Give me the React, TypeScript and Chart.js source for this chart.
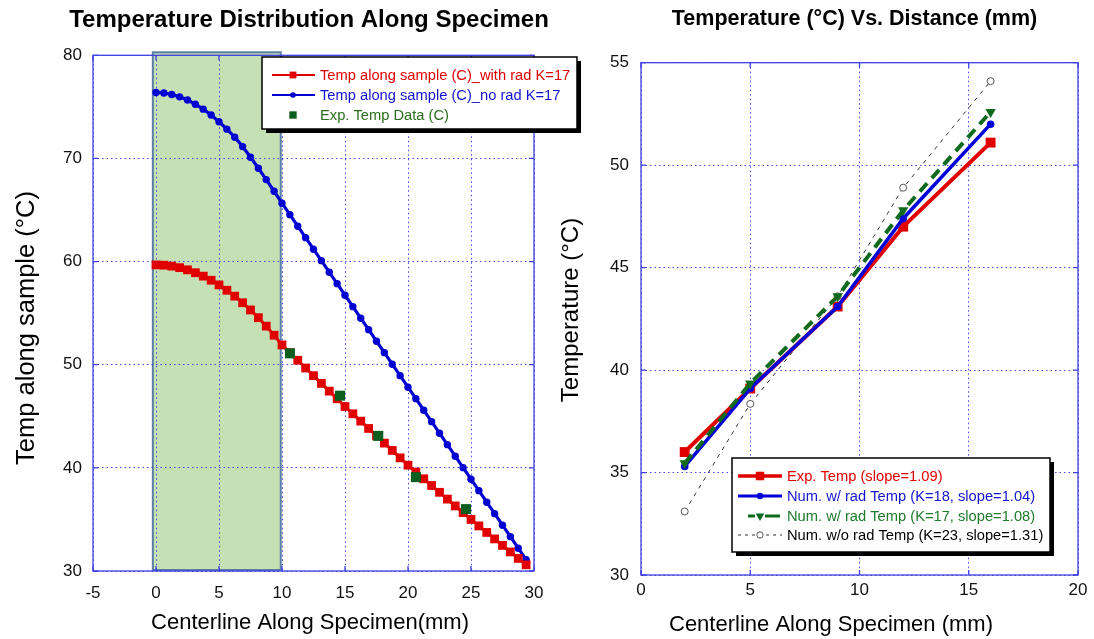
import React, { useEffect, useRef } from 'react';
import { Chart, registerables } from 'chart.js';
import { drawPoint } from 'chart.js/helpers';

Chart.register(...registerables);

// ---------- Left chart data ----------
const POS_MM = [
  0, 0.625, 1.25, 1.875, 2.5, 3.125, 3.75, 4.375, 5, 5.625, 6.25, 6.875, 7.5, 8.125, 8.75, 9.375,
  10, 10.625, 11.25, 11.875, 12.5, 13.125, 13.75, 14.375, 15, 15.625, 16.25, 16.875, 17.5, 18.125,
  18.75, 19.375, 20, 20.625, 21.25, 21.875, 22.5, 23.125, 23.75, 24.375, 25, 25.625, 26.25, 26.875,
  27.5, 28.125, 28.75, 29.375,
];
const T_WITH_RAD = [
  59.68, 59.65, 59.56, 59.41, 59.2, 58.92, 58.59, 58.19, 57.74, 57.22, 56.65, 56.01, 55.31, 54.56,
  53.74, 52.86, 51.92, 51.17, 50.43, 49.68, 48.94, 48.19, 47.44, 46.7, 45.95, 45.24, 44.53, 43.82,
  43.11, 42.4, 41.69, 40.97, 40.26, 39.6, 38.94, 38.29, 37.63, 36.97, 36.31, 35.66, 35.0, 34.37,
  33.74, 33.11, 32.48, 31.85, 31.22, 30.6,
];
const T_NO_RAD = [
  76.4, 76.35, 76.2, 75.97, 75.66, 75.26, 74.78, 74.21, 73.56, 72.84, 72.06, 71.15, 70.12, 69.05,
  67.95, 66.82, 65.66, 64.55, 63.43, 62.32, 61.2, 60.09, 58.97, 57.86, 56.74, 55.63, 54.51, 53.4,
  52.28, 51.17, 50.05, 48.94, 47.82, 46.71, 45.59, 44.48, 43.36, 42.25, 41.13, 40.02, 38.9, 37.79,
  36.67, 35.56, 34.44, 33.33, 32.21, 31.1,
];
const EXP_POS_MM = [10.63, 14.6, 17.64, 20.63, 24.6];
const EXP_T = [51.1, 47.0, 43.1, 39.1, 36.0];
const HEATER_FROM = -0.25;
const HEATER_TO = 9.9;
const LEFT_X_TICKS = [-5, 0, 5, 10, 15, 20, 25, 30];
const LEFT_Y_TICKS = [30, 40, 50, 60, 70, 80];

// ---------- Right chart data ----------
const DIST_MM = [2, 5, 9, 12, 16];
const EXP_TEMP = [36.0, 39.1, 43.1, 47.0, 51.1];
const NUM_RAD_K18 = [35.3, 39.1, 43.1, 47.4, 52.0];
const NUM_RAD_K17 = [35.45, 39.35, 43.6, 47.8, 52.6];
const NUM_NORAD_K23 = [33.1, 38.35, 43.6, 48.9, 54.1];
const RIGHT_X_TICKS = [0, 5, 10, 15, 20];
const RIGHT_Y_TICKS = [30, 35, 40, 45, 50, 55];

const FONT = '"Liberation Sans", Arial, sans-serif';
const GRID = 'rgba(60,60,235,0.95)';
const FRAME = '#4040e0';

const zip = (xs: number[], ys: number[]) => xs.map((x, i) => ({ x, y: ys[i] }));

const framePlugin = {
  id: 'frame',
  beforeDraw(chart: any, _a: any, o: any) {
    if (!o || !o.band) return;
    const { ctx, chartArea: a } = chart;
    const xs = chart.scales.x;
    const x1 = xs.getPixelForValue(o.band.from);
    const x2 = xs.getPixelForValue(o.band.to);
    ctx.save();
    ctx.fillStyle = o.band.fill;
    ctx.fillRect(x1, a.top - 3, x2 - x1, a.bottom - a.top + 2);
    ctx.strokeStyle = o.band.stroke;
    ctx.lineWidth = 2;
    ctx.strokeRect(x1, a.top - 3, x2 - x1, a.bottom - a.top + 2);
    ctx.restore();
  },
  beforeDatasetsDraw(chart: any) {
    const { ctx, chartArea: a } = chart;
    const xs = chart.scales.x;
    const ys = chart.scales.y;
    ctx.save();
    ctx.strokeStyle = FRAME;
    ctx.lineWidth = 1.3;
    ctx.setLineDash([]);
    ctx.strokeRect(a.left, a.top, a.right - a.left, a.bottom - a.top);
    ctx.beginPath();
    xs.ticks.forEach((t: any) => {
      const p = xs.getPixelForValue(t.value);
      ctx.moveTo(p, a.bottom);
      ctx.lineTo(p, a.bottom - 5);
      ctx.moveTo(p, a.top);
      ctx.lineTo(p, a.top + 5);
    });
    ys.ticks.forEach((t: any) => {
      const p = ys.getPixelForValue(t.value);
      ctx.moveTo(a.left, p);
      ctx.lineTo(a.left + 5, p);
      ctx.moveTo(a.right, p);
      ctx.lineTo(a.right - 5, p);
    });
    ctx.stroke();
    ctx.restore();
  },
};

const textsPlugin = {
  id: 'texts',
  afterDraw(chart: any, _a: any, o: any) {
    const ctx = chart.ctx;
    (o.items || []).forEach((t: any) => {
      ctx.save();
      ctx.translate(t.x, t.y);
      if (t.rotate) ctx.rotate((t.rotate * Math.PI) / 180);
      ctx.font = t.font;
      ctx.fillStyle = t.color || '#000';
      ctx.textAlign = 'center';
      ctx.textBaseline = 'middle';
      ctx.fillText(t.text, 0, 0);
      ctx.restore();
    });
  },
};

const boxLegendPlugin = {
  id: 'boxLegend',
  afterDraw(chart: any, _a: any, o: any) {
    if (!o || !o.box) return;
    const ctx = chart.ctx;
    const { x, y, w, h } = o.box;
    ctx.save();
    ctx.fillStyle = '#000';
    ctx.fillRect(x + 4, y + 4, w, h);
    ctx.fillStyle = '#fff';
    ctx.fillRect(x, y, w, h);
    ctx.strokeStyle = '#000';
    ctx.lineWidth = 1.5;
    ctx.strokeRect(x, y, w, h);
    chart.data.datasets.forEach((ds: any, i: number) => {
      const ry = o.rows[i];
      const s = ds.legendSample || {};
      if (s.lineWidth) {
        ctx.beginPath();
        ctx.setLineDash(s.dash || []);
        ctx.lineWidth = s.lineWidth;
        ctx.strokeStyle = ds.borderColor;
        ctx.moveTo(o.x1 + (s.dx1 || 0), ry);
        ctx.lineTo(o.x2 + (s.dx2 || 0), ry);
        ctx.stroke();
        ctx.setLineDash([]);
      }
      ctx.fillStyle = ds.pointBackgroundColor || ds.backgroundColor;
      ctx.strokeStyle = ds.pointBorderColor || ds.borderColor;
      ctx.lineWidth = ds.pointBorderWidth ?? 1;
      drawPoint(
        ctx,
        {
          pointStyle: ds.pointStyle,
          rotation: ds.pointRotation || 0,
          radius: s.radius,
          borderWidth: ds.pointBorderWidth ?? 1,
        } as any,
        o.mx,
        ry
      );
      ctx.font = o.font;
      ctx.fillStyle = o.colors[i];
      ctx.textAlign = 'left';
      ctx.textBaseline = 'middle';
      ctx.fillText(ds.label, o.tx, ry + 0.5);
    });
    ctx.restore();
  },
};

function axis(min: number, max: number, ticks: number[], size: number, horizontal: boolean, pad: number) {
  return {
    type: 'linear',
    min,
    max,
    afterBuildTicks: (s: any) => {
      s.ticks = ticks.map((v) => ({ value: v }));
    },
    afterFit: (s: any) => {
      if (horizontal) s.height = size;
      else s.width = size;
    },
    ticks: {
      padding: pad,
      color: '#111',
      font: { family: FONT, size: 17 },
      autoSkip: false,
      maxRotation: 0,
    },
    grid: { color: GRID, lineWidth: 1, drawTicks: false },
    border: { display: false, dash: [1.5, 3] },
  };
}

function leftConfig(): any {
  return {
    type: 'line',
    data: {
      datasets: [
        {
          label: 'Temp along sample (C)_with rad K=17',
          data: zip(POS_MM, T_WITH_RAD),
          borderColor: '#e00000',
          backgroundColor: '#e00000',
          borderWidth: 3,
          pointStyle: 'rect',
          pointRadius: 6.2,
          pointBorderWidth: 0,
          order: 1,
          legendSample: { lineWidth: 2.2, radius: 4.8 },
        },
        {
          label: 'Temp along sample (C)_no rad K=17',
          data: zip(POS_MM, T_NO_RAD),
          borderColor: '#0000d0',
          backgroundColor: '#0000d0',
          borderWidth: 3.2,
          pointStyle: 'circle',
          pointRadius: 3.7,
          pointBorderWidth: 0,
          order: 2,
          legendSample: { lineWidth: 2.2, radius: 2.8 },
        },
        {
          label: 'Exp. Temp Data (C)',
          data: zip(EXP_POS_MM, EXP_T),
          borderColor: '#0b5e1e',
          backgroundColor: '#0b5e1e',
          showLine: false,
          pointStyle: 'rect',
          pointRadius: 7.1,
          pointBorderWidth: 0,
          order: 0,
          legendSample: { radius: 5.2 },
        },
      ],
    },
    options: {
      responsive: false,
      animation: false,
      devicePixelRatio: 1,
      events: [],
      clip: false,
      layout: { padding: { left: 0, right: 66, top: 55.3, bottom: 0 } },
      scales: {
        x: axis(-5, 30, LEFT_X_TICKS, 68, true, 12),
        y: axis(30, 80, LEFT_Y_TICKS, 93, false, 11),
      },
      plugins: {
        legend: { display: false },
        tooltip: { enabled: false },
        title: { display: false },
        frame: { band: { from: HEATER_FROM, to: HEATER_TO, fill: '#c6e0b5', stroke: '#5b7fa6' } },
        texts: {
          items: [
            { text: 'Temperature Distribution Along Specimen', x: 309, y: 20, font: `bold 24px ${FONT}` },
            { text: 'Centerline Along Specimen(mm)', x: 310, y: 623, font: `22px ${FONT}` },
            { text: 'Temp along sample (°C)', x: 27, y: 328, rotate: -90, font: `25.5px ${FONT}` },
          ],
        },
        boxLegend: {
          box: { x: 262, y: 57, w: 315, h: 72 },
          rows: [75, 95, 115],
          x1: 272,
          x2: 315,
          mx: 293,
          tx: 320,
          font: `14.7px ${FONT}`,
          colors: ['#e00000', '#1414d0', '#2a6e1e'],
        },
      },
    },
    plugins: [framePlugin, textsPlugin, boxLegendPlugin],
  };
}

function rightConfig(): any {
  return {
    type: 'line',
    data: {
      datasets: [
        {
          label: 'Exp. Temp (slope=1.09)',
          data: zip(DIST_MM, EXP_TEMP),
          borderColor: '#e00000',
          backgroundColor: '#e00000',
          borderWidth: 4,
          pointStyle: 'rect',
          pointRadius: 7,
          pointBorderWidth: 0,
          order: 2,
          legendSample: { lineWidth: 3.5, radius: 6 },
        },
        {
          label: 'Num. w/ rad Temp (K=18, slope=1.04)',
          data: zip(DIST_MM, NUM_RAD_K18),
          borderColor: '#0000d8',
          backgroundColor: '#0000d8',
          borderWidth: 3.5,
          pointStyle: 'circle',
          pointRadius: 3.8,
          pointBorderWidth: 0,
          order: 1,
          legendSample: { lineWidth: 3, radius: 3.3 },
        },
        {
          label: 'Num. w/ rad Temp (K=17, slope=1.08)',
          data: zip(DIST_MM, NUM_RAD_K17),
          borderColor: '#0e6a1c',
          backgroundColor: '#0e6a1c',
          borderWidth: 4,
          borderDash: [11, 7],
          pointStyle: 'triangle',
          pointRotation: 180,
          pointRadius: 6,
          pointBorderWidth: 0,
          order: 0,
          legendSample: { lineWidth: 3, radius: 5, dx1: 10, dx2: -2, dash: [7, 10, 15, 100] },
        },
        {
          label: 'Num. w/o rad Temp (K=23, slope=1.31)',
          data: zip(DIST_MM, NUM_NORAD_K23),
          borderColor: '#333333',
          backgroundColor: '#ffffff',
          borderWidth: 1,
          borderDash: [4, 5],
          pointStyle: 'circle',
          pointRadius: 3.5,
          pointBackgroundColor: '#ffffff',
          pointBorderColor: '#555555',
          pointBorderWidth: 1,
          order: 3,
          legendSample: { lineWidth: 1, radius: 3.2, dash: [3, 4] },
        },
      ],
    },
    options: {
      responsive: false,
      animation: false,
      devicePixelRatio: 1,
      events: [],
      clip: false,
      layout: { padding: { left: 0, right: 16, top: 62.7, bottom: 0 } },
      scales: {
        x: axis(0, 20, RIGHT_X_TICKS, 64, true, 5),
        y: axis(30, 55, RIGHT_Y_TICKS, 101, false, 12),
      },
      plugins: {
        legend: { display: false },
        tooltip: { enabled: false },
        title: { display: false },
        frame: {},
        texts: {
          items: [
            { text: 'Temperature (°C) Vs. Distance (mm)', x: 314.5, y: 19.5, font: `bold 21.5px ${FONT}` },
            { text: 'Centerline Along Specimen (mm)', x: 291, y: 625, font: `22px ${FONT}` },
            { text: 'Temperature (°C)', x: 31, y: 310, rotate: -90, font: `24px ${FONT}` },
          ],
        },
        boxLegend: {
          box: { x: 192, y: 458, w: 318, h: 94 },
          rows: [476, 496, 516, 535],
          x1: 198,
          x2: 242,
          mx: 220,
          tx: 247,
          font: `14.7px ${FONT}`,
          colors: ['#e00000', '#1414d0', '#1f7a2a', '#000000'],
        },
      },
    },
    plugins: [framePlugin, textsPlugin, boxLegendPlugin],
  };
}

export default function App() {
  const leftRef = useRef<HTMLCanvasElement>(null);
  const rightRef = useRef<HTMLCanvasElement>(null);
  useEffect(() => {
    const c1 = new Chart(leftRef.current as HTMLCanvasElement, leftConfig());
    const c2 = new Chart(rightRef.current as HTMLCanvasElement, rightConfig());
    return () => {
      c1.destroy();
      c2.destroy();
    };
  }, []);
  return (
    <div style={{ position: 'absolute', left: 0, top: 0, width: 1094, height: 639, background: '#fff', overflow: 'hidden' }}>
      <canvas ref={leftRef} width={600} height={639} style={{ position: 'absolute', left: 0, top: 0, width: 600, height: 639 }} />
      <canvas ref={rightRef} width={554} height={639} style={{ position: 'absolute', left: 540, top: 0, width: 554, height: 639 }} />
    </div>
  );
}
